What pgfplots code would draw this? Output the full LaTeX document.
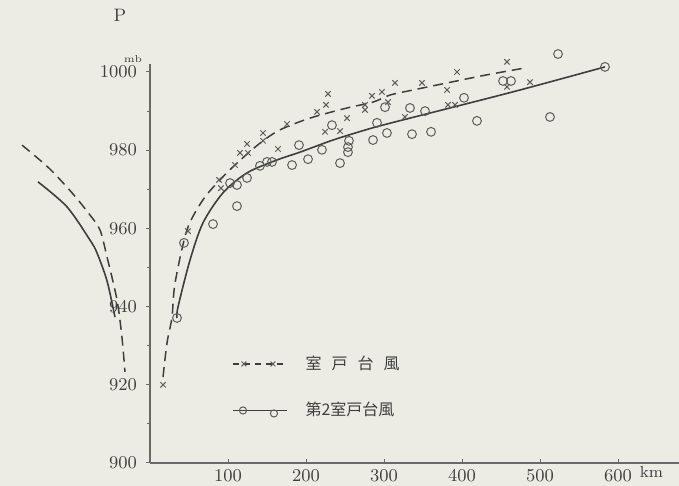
\documentclass[border=0pt]{standalone}
\usepackage{fontspec}
\usepackage{pgfplots}
\pgfplotsset{compat=1.18}
\newfontfamily\cjk{Noto Sans CJK JP}
\definecolor{paper}{RGB}{236,236,229}
\definecolor{ink}{RGB}{62,62,62}
\definecolor{dot}{RGB}{92,92,92}
\definecolor{axisgray}{RGB}{105,105,105}

\begin{document}
\begin{tikzpicture}[x=1pt,y=1pt]
\fill[paper] (-75,-11.5) rectangle (264.5,231.5);
\begin{axis}[
  at={(0,0)}, anchor=south west, scale only axis,
  width=264.42pt, height=199.41pt,
  xmin=0, xmax=678, ymin=900, ymax=1002,
  axis lines*=left, clip=false,
  axis line style={draw=axisgray, line width=0.6pt},
  xtick={100,200,300,400,500,600},
  ytick={900,920,940,960,980,1000},
  minor ytick={910,930,950,970,990},
  tick align=outside, major tick length=2pt, minor tick length=1.5pt,
  tick style={draw=axisgray, line width=0.5pt},
  x tick style={yshift=2pt},
  ticklabel style={font=\fontsize{9.5}{10}\selectfont, text=ink},
  yticklabel style={xshift=-1pt, /pgf/number format/set thousands separator={}},
  xticklabel style={yshift=2.2pt},
  legend style={at={(0.155,0.19)}, anchor=west, draw=none, fill=none,
    font=\fontsize{8}{9}\selectfont, text=ink, row sep=11pt, inner sep=0pt,
    /tikz/every odd column/.style={column sep=7pt}},
  legend cell align=left,
]
% 室戸台風: observations
\addplot[only marks, mark=x, mark size=1.9pt, draw=dot, line width=0.5pt, forget plot] coordinates {
(16.7,920.0) (48.7,959.3) (88.5,972.4) (91.0,970.3) (109.0,976.2) (115.4,979.3)
(125.6,979.3) (124.4,981.6) (144.9,984.4) (144.9,982.4) (164.1,980.3) (175.6,986.7)
(214.1,989.8) (225.6,991.6) (228.2,994.4) (224.4,984.7) (243.6,984.9) (252.6,988.2)
(275.6,991.6) (275.6,990.3) (284.6,993.9) (297.4,994.9) (305.1,992.3) (314.1,997.2)
(326.9,988.5) (348.7,997.2) (380.8,995.4) (393.6,1000.0) (382.1,991.6) (391.0,991.6)
(457.7,1002.6) (457.7,996.2) (487.2,997.4)
};
% 第2室戸台風: observations
\addplot[only marks, mark=o, mark size=2.2pt, draw=dot, line width=0.5pt, forget plot] coordinates {
(34.6,937.1) (43.6,956.3) (80.8,961.1) (111.5,965.7) (102.6,971.6) (111.5,971.1)
(124.4,972.9) (141.0,976.0) (150.0,977.0) (156.4,977.0) (182.1,976.2) (191.0,981.3)
(202.6,977.7) (220.5,980.1) (233.3,986.4) (243.6,976.7) (255.1,982.4) (253.8,980.8)
(253.8,979.5) (285.9,982.6) (291.0,987.0) (301.3,991.0) (303.8,984.4) (333.3,990.8)
(352.6,990.0) (335.9,984.1) (360.3,984.7) (402.6,993.4) (419.2,987.5) (452.6,997.7)
(462.8,997.7) (523.1,1004.6) (512.8,988.5) (583.3,1001.3)
};
% dashed curves (室戸台風)
\addplot[ink, line width=0.75pt, dash pattern=on 5pt off 3pt, smooth, tension=0.5, forget plot] coordinates {
(16.7,922.0) (21.8,930.7) (28.2,937.3) (32.1,946.0) (47.4,959.6) (67.9,967.3)
(89.7,972.4) (111.5,976.7) (141.0,981.8) (166.7,985.2) (205.1,988.2) (252.6,990.8)
(285.9,992.3) (307.7,994.1) (337.2,995.4) (380.8,997.2) (430,999.2) (480,1001.0)
};
\addplot[ink, line width=0.75pt, dash pattern=on 5pt off 3pt, smooth, tension=0.5, forget plot] coordinates {
(-164.1,981.3) (-130,975.5) (-100,969.1) (-76.9,963.4) (-64.1,959.6) (-55.1,952.7)
(-42.3,941.7) (-35.9,932.0) (-32.1,923.3)
};
% solid curves (第2室戸台風)
\addplot[ink, line width=0.8pt, smooth, tension=0.5, forget plot] coordinates {
(34.6,937.1) (35.9,939.9) (51.3,951.9) (67.9,961.4) (93.6,969.1) (124.4,974.2)
(162.8,977.5) (192.3,979.5) (234.6,982.6) (278.2,985.3) (307.7,986.9) (384.6,990.8)
(474.4,995.4) (583.3,1001.3)
};
\addplot[ink, line width=0.8pt, smooth, tension=0.5, forget plot] coordinates {
(-143.6,971.9) (-106.4,965.5) (-76.9,957.0) (-67.9,953.7) (-55,946.5) (-44.9,937.3)
};
% legend
\addlegendimage{legend image code/.code={
  \draw[ink, line width=0.6pt, dash pattern=on 3pt off 2.5pt] (0pt,0pt) -- (27pt,0pt);
  \draw[dot, line width=0.5pt] plot[only marks, mark=x, mark size=1.7pt] coordinates {(5.5pt,0pt) (20pt,0pt)};
}}
\addlegendentry{{\cjk 室\hspace{5pt}戸\hspace{5pt}台\hspace{5pt}風}}
\addlegendimage{legend image code/.code={
  \draw[ink, line width=0.6pt] (0pt,0pt) -- (27pt,0pt);
  \draw[dot, line width=0.5pt] plot[only marks, mark=o, mark size=1.8pt] coordinates {(5pt,0pt) (20.5pt,-1.5pt)};
}}
\addlegendentry{{\cjk 第2室戸台風}}
\node[font=\fontsize{9}{10}\selectfont, text=ink] at (axis cs:-38.5,1014.6) {P};
\node[font=\fontsize{5}{6}\selectfont, text=ink] at (axis cs:-21.8,1003.3) {mb};
\node[font=\fontsize{8}{9}\selectfont, text=ink] at (axis cs:643,897.6) {km};
\end{axis}
\pgfresetboundingbox
\path (-75,-11.5) rectangle (264.5,231.5);
\end{tikzpicture}
\end{document}
